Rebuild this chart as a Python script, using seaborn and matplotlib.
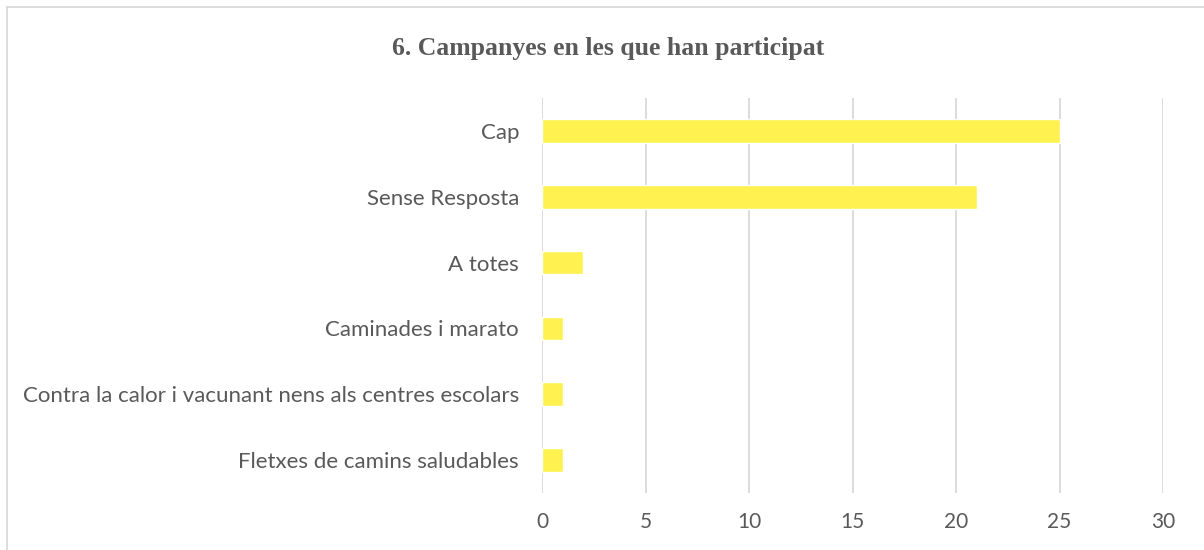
import matplotlib
matplotlib.use("Agg")
import matplotlib.pyplot as plt
import seaborn as sns
import pandas as pd
from matplotlib.patches import Rectangle

categories = [
    "Cap",
    "Sense Resposta",
    "A totes",
    "Caminades i marato",
    "Contra la calor i vacunant nens als centres escolars",
    "Fletxes de camins saludables",
]
values = [25, 21, 2, 1, 1, 1]
x_ticks = [0, 5, 10, 15, 20, 25, 30]
title = "6. Campanyes en les que han participat"

sns.set_theme(style="white")
plt.rcParams["font.family"] = ["Lato", "DejaVu Sans"]

df = pd.DataFrame({"campanya": categories, "n": values})

fig = plt.figure(figsize=(12.04, 5.5), dpi=100)
ax = fig.add_axes([542 / 1204, 1 - 493 / 550, (1163 - 542) / 1204, (493 - 98) / 550])

sns.barplot(data=df, x="n", y="campanya", order=categories, color="#FFF250",
            saturation=1, width=0.36, ax=ax, zorder=3)

ax.set_xlim(0, 30)
ax.set_ylim(5.5, -0.5)
ax.set_xticks(x_ticks)
ax.xaxis.grid(True, color="#D9D9D9", linewidth=1.3, zorder=0)
ax.yaxis.grid(False)
for s in ax.spines.values():
    s.set_visible(False)
ax.set_xlabel("")
ax.set_ylabel("")
ax.tick_params(axis="y", length=0, pad=16.5, labelsize=16, labelcolor="#595959")
ax.tick_params(axis="x", length=0, pad=14, labelsize=15, labelcolor="#595959")

fig.text(0.5 + 6 / 1204, 1 - 48 / 550, title, ha="center", va="center",
         fontsize=18.5, fontweight="bold", color="#595959",
         family=["Liberation Serif", "DejaVu Serif"])

# outer frame of the chart area
fig.patches.append(Rectangle((7 / 1204, -0.1), 1.2, 1 - 7 / 550 + 0.1,
                             transform=fig.transFigure, fill=False,
                             edgecolor="#D9D9D9", linewidth=1.3))

fig.savefig("out.png", dpi=100, facecolor="white")
